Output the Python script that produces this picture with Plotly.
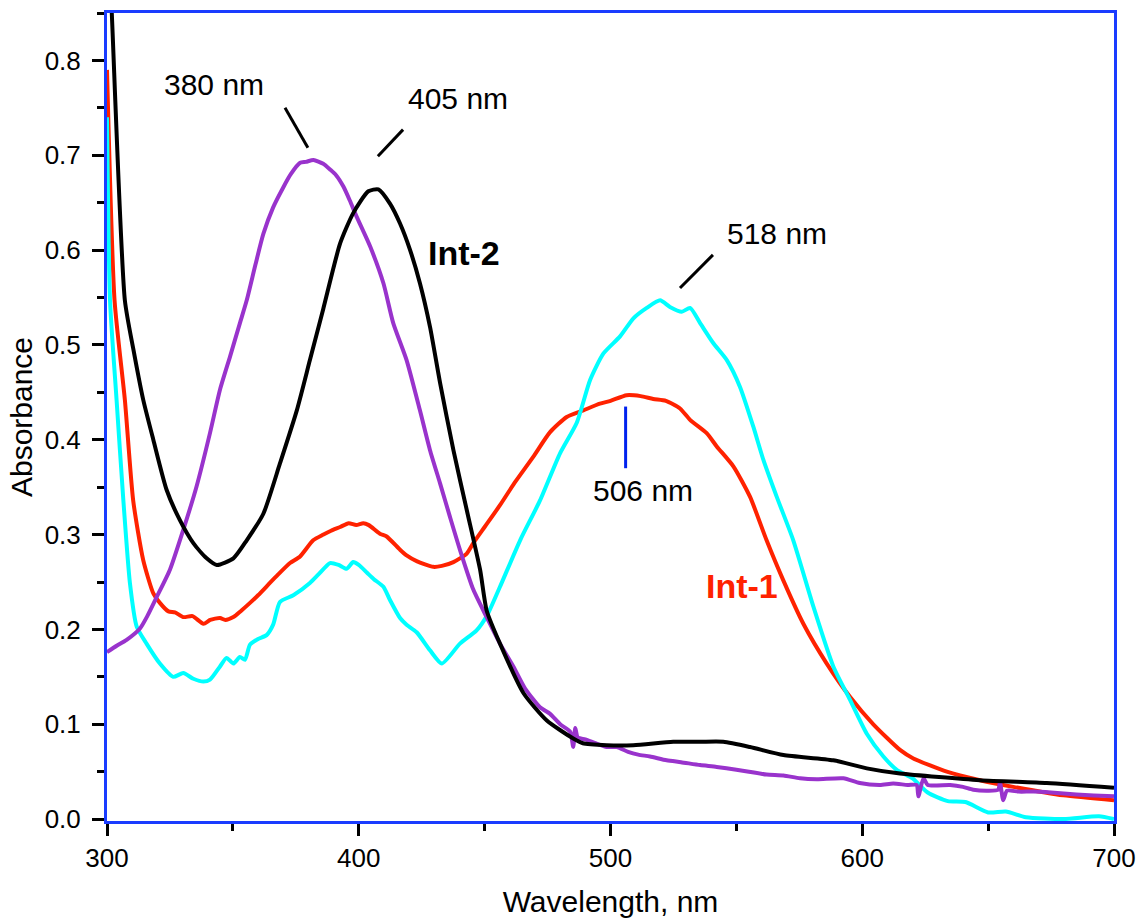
import plotly.graph_objects as go

# ---------------- data ----------------
wl_int2 = [300, 301.9, 307.1, 310.5, 314.4, 318.4, 323.7, 329, 334.3, 339.6, 343.6, 350.2, 355.5,
           362.1, 368.7, 375.4, 380.6, 385.9, 392.6, 397.8, 403.8, 407.8, 412.4, 416.4, 420.4,
           424.3, 428.3, 432.3, 437.6, 442.9, 448.2, 450.8, 456.1, 465.4, 474.7, 485.2, 489,
           498.5, 509.1, 524.9, 535.6, 544.8, 555.4, 568.7, 588.5, 601.8, 615, 646.8, 673.3, 700]
abs_int2 = [0.96, 0.85, 0.547, 0.495, 0.442, 0.400, 0.347, 0.315, 0.291, 0.275, 0.268, 0.275, 0.294,
            0.322, 0.375, 0.431, 0.484, 0.538, 0.607, 0.639, 0.662, 0.664, 0.649, 0.628, 0.600,
            0.565, 0.519, 0.460, 0.389, 0.326, 0.263, 0.220, 0.185, 0.133, 0.104, 0.085, 0.080,
            0.078, 0.078, 0.0815, 0.0815, 0.0815, 0.076, 0.0675, 0.062, 0.0535, 0.048, 0.041, 0.038, 0.033]

wl_int1 = [300, 303, 307.1, 310.4, 314.4, 318.4, 321, 324.4, 327, 330.3, 334, 338.3, 341, 344.9, 347,
           350.2, 353, 356.8, 360, 364.7, 368, 372.7, 376.7, 381.9, 386, 389, 392.6, 396, 399, 401.8,
           404, 408.4, 411.1, 416.4, 419, 423, 429.6, 433, 437.6, 442.9, 445.5, 450, 456.1, 462,
           469.3, 476, 482.6, 489.2, 495.8, 500, 506.4, 512, 517, 522, 527.6, 531.6, 538.2, 542.2,
           548.8, 555.4, 562, 568.6, 576.6, 585.9, 595.1, 604.4, 615, 620.3, 633.6, 646.8, 660, 679.9, 700]
abs_int1 = [0.79, 0.547, 0.442, 0.336, 0.273, 0.238, 0.228, 0.219, 0.218, 0.213, 0.214, 0.206, 0.210,
            0.212, 0.210, 0.213, 0.219, 0.228, 0.236, 0.249, 0.258, 0.270, 0.277, 0.294, 0.300, 0.304,
            0.308, 0.312, 0.310, 0.312, 0.310, 0.301, 0.298, 0.284, 0.278, 0.272, 0.266, 0.267, 0.271,
            0.280, 0.291, 0.308, 0.331, 0.355, 0.382, 0.408, 0.424, 0.431, 0.438, 0.441, 0.447, 0.446,
            0.443, 0.441, 0.433, 0.421, 0.407, 0.393, 0.372, 0.340, 0.294, 0.252, 0.206, 0.164, 0.129,
            0.100, 0.073, 0.064, 0.050, 0.041, 0.034, 0.025, 0.020]

wl_cyan = [300, 301.2, 303.8, 306.5, 309.1, 311.8, 315.7, 321, 326.3, 330.3, 334.3, 338.3, 340.9,
           344.9, 347.5, 350.2, 352.8, 354.8, 356.8, 360, 363.4, 366, 368.7, 374, 380.6, 384, 388.6,
           392, 395.2, 397.8, 400, 403.2, 406, 409.8, 412.4, 416.4, 419, 423, 428.3, 433, 440.2,
           446.8, 451, 456.1, 464.1, 472, 480, 486.6, 491.9, 497.2, 503.8, 509.1, 514.4, 519.7,
           523.6, 528.3, 531.6, 535.6, 540.8, 546.2, 551.4, 556.7, 560.7, 566, 572.6, 580.6, 588.5,
           595.1, 601.8, 608.4, 613.7, 620, 626, 634, 641, 650, 657, 665, 680, 694, 700]
abs_cyan = [0.74, 0.547, 0.442, 0.336, 0.249, 0.203, 0.185, 0.164, 0.150, 0.154, 0.148, 0.145, 0.147,
            0.161, 0.170, 0.164, 0.171, 0.168, 0.184, 0.190, 0.194, 0.205, 0.229, 0.236, 0.249, 0.258,
            0.270, 0.268, 0.264, 0.271, 0.268, 0.260, 0.253, 0.245, 0.231, 0.212, 0.205, 0.197, 0.178,
            0.164, 0.185, 0.199, 0.215, 0.245, 0.294, 0.336, 0.386, 0.418, 0.463, 0.491, 0.509, 0.528,
            0.539, 0.547, 0.540, 0.535, 0.539, 0.523, 0.502, 0.484, 0.456, 0.414, 0.379, 0.340, 0.294,
            0.224, 0.161, 0.126, 0.090, 0.066, 0.052, 0.043, 0.028, 0.019, 0.018, 0.007, 0.008, 0.002,
            0.0, 0.003, 0.0]

wl_purple = [300, 304, 307.8, 313.1, 316, 319.7, 325, 330.3, 335.6, 340.9, 344.9, 348.9, 352.8, 355.5,
             359, 362.1, 366, 370, 373, 376.7, 379, 382, 385.9, 388.6, 391, 393.9, 396.5, 399.2, 404.5,
             409.8, 413.7, 419, 424.3, 428.3, 432.3, 436.2, 440.2, 445.5, 450.8, 456.1, 461.4, 466,
             472, 476, 480, 484, 485.2, 486, 487, 490, 494, 498.5, 502.5, 507, 511, 515.7, 522.3, 528,
             535.6, 542.2, 550, 555, 562, 568.7, 575.3, 582, 592.5, 599, 607, 612.3, 618, 621.6, 622.3,
             624.3, 626, 634.9, 640, 644.1, 650, 654, 654.7, 656, 657.5, 662, 668, 675, 685, 692, 700]
abs_purple = [0.176, 0.183, 0.189, 0.201, 0.214, 0.234, 0.263, 0.305, 0.351, 0.407, 0.453, 0.488, 0.523,
              0.547, 0.585, 0.617, 0.645, 0.666, 0.680, 0.692, 0.693, 0.695, 0.691, 0.685, 0.679, 0.667,
              0.652, 0.635, 0.604, 0.565, 0.523, 0.484, 0.431, 0.389, 0.354, 0.319, 0.284, 0.242, 0.213,
              0.185, 0.161, 0.138, 0.118, 0.111, 0.100, 0.092, 0.076, 0.096, 0.086, 0.084, 0.080, 0.076,
              0.076, 0.071, 0.068, 0.066, 0.062, 0.060, 0.057, 0.055, 0.052, 0.050, 0.047, 0.046, 0.043,
              0.042, 0.043, 0.038, 0.036, 0.0375, 0.036, 0.036, 0.024, 0.043, 0.036, 0.036, 0.034, 0.031,
              0.030, 0.031, 0.039, 0.020, 0.030, 0.029, 0.029, 0.028, 0.026, 0.025, 0.024]

x_ticks = [300, 400, 500, 600, 700]
y_ticks = [0.0, 0.1, 0.2, 0.3, 0.4, 0.5, 0.6, 0.7, 0.8]

# ---------------- styles ----------------
FONT = "Liberation Sans, Arial, sans-serif"
FRAME = "#1a3cff"
RED = "#ff2200"
CYAN = "#00ffff"
PURPLE = "#9933cc"

fig = go.Figure()
series = [
    (wl_int1, abs_int1, RED),
    (wl_cyan, abs_cyan, CYAN),
    (wl_purple, abs_purple, PURPLE),
    (wl_int2, abs_int2, "black"),
]
for xs, ys, col in series:
    fig.add_trace(go.Scatter(x=xs, y=ys, mode="lines",
                             line=dict(color=col, width=4, shape="spline", smoothing=0.6),
                             showlegend=False, hoverinfo="skip"))

axis_common = dict(
    showline=True, linecolor=FRAME, linewidth=3, mirror=True,
    ticks="outside", ticklen=12, tickwidth=3, tickcolor="black",
    showgrid=False, zeroline=False, automargin=False,
    tickfont=dict(family=FONT, size=26, color="black"),
)

fig.update_xaxes(range=[300, 700], tickvals=x_ticks, ticktext=[str(v) for v in x_ticks],
                 minor=dict(dtick=50, tick0=300, ticklen=7, tickwidth=3, tickcolor="black",
                            ticks="outside"),
                 title=dict(text="Wavelength, nm", font=dict(family=FONT, size=30, color="black"),
                            standoff=20),
                 **axis_common)
fig.update_yaxes(range=[-0.002, 0.85], tickvals=y_ticks, ticktext=[f"{v:.1f}" for v in y_ticks],
                 minor=dict(dtick=0.05, tick0=0, ticklen=7, tickwidth=3, tickcolor="black",
                            ticks="outside"),
                 ticklabelstandoff=6,
                 title=dict(text="Absorbance", font=dict(family=FONT, size=30, color="black"),
                            standoff=4),
                 **axis_common)

# leader lines
leaders = [
    (370.7, 0.750, 379.8, 0.708, "black"),
    (417.6, 0.727, 407.6, 0.699, "black"),
    (540.7, 0.595, 527.6, 0.560, "black"),
    (506.0, 0.435, 506.0, 0.370, "#0022ee"),
]
for x0, y0, x1, y1, c in leaders:
    fig.add_shape(type="line", xref="x", yref="y", x0=x0, y0=y0, x1=x1, y1=y1,
                  line=dict(color=c, width=3))

labels = [
    ("380 nm", 342.6, 0.775, 30, "black", False),
    ("405 nm", 439.6, 0.760, 30, "black", False),
    ("518 nm", 566.3, 0.617, 30, "black", False),
    ("506 nm", 512.9, 0.347, 30, "black", False),
    ("Int-2", 441.8, 0.597, 34, "black", True),
    ("Int-1", 552.2, 0.246, 34, RED, True),
]
for txt, x, y, sz, col, bold in labels:
    fig.add_annotation(x=x, y=y, xref="x", yref="y", showarrow=False,
                       text=f"<b>{txt}</b>" if bold else txt,
                       font=dict(family=FONT, size=sz, color=col))

fig.update_layout(
    width=1144, height=918,
    margin=dict(l=107, r=30, t=13, b=97),
    paper_bgcolor="white", plot_bgcolor="white",
)

fig.write_html("out.html")
